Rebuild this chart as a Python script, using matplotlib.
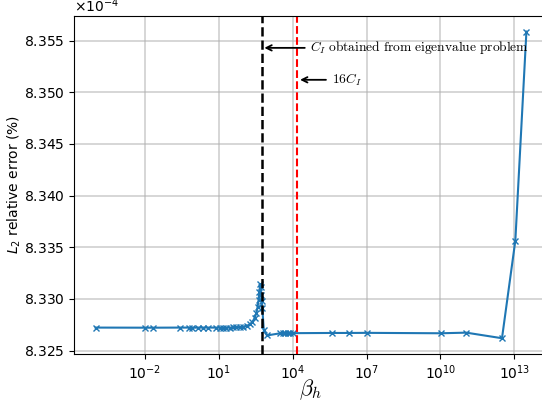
import matplotlib
matplotlib.use("Agg")
import matplotlib.pyplot as plt
import numpy as np

beta = [1e-4, 1e-2, 0.022, 0.26, 0.62, 0.85, 1.45, 2.3, 3.7, 8.1, 11, 15, 20, 28, 38,
        52, 71, 98, 135, 182, 234, 288, 339, 380, 417, 447, 490, 513, 537, 562, 589,
        676, 912, 3162, 3981, 5012, 6310, 7943, 1e4, 3.9e5, 1.95e6, 1.02e7,
        1.07e10, 1.12e11, 3.16e12, 1.1e13, 3.1e13]
# L2 relative error values in units of 1e-4 (%)
err = [8.32723, 8.32722, 8.32722, 8.32723, 8.32723, 8.32722, 8.32723, 8.32723, 8.32723,
       8.32723, 8.32723, 8.32723, 8.32723, 8.32723, 8.32724,
       8.32725, 8.32727, 8.32731, 8.32739, 8.32754, 8.32778, 8.32816, 8.32865, 8.32923,
       8.32991, 8.33068, 8.33145, 8.33116, 8.33039, 8.32981, 8.32913,
       8.32700, 8.32647, 8.32668, 8.32668, 8.32668, 8.32669, 8.32669, 8.32669,
       8.32671, 8.32671, 8.32672,
       8.32668, 8.32674, 8.32620, 8.33564, 8.35587]
scale = 1e-4

C_I = 550.0
C16 = 1.55e4
ann_text1 = r"$C_I\ \mathrm{obtained\ from\ eigenvalue\ problem}$"
ann_text2 = r"$16C_I$"

fig = plt.figure(figsize=(5.42, 4.05), dpi=100)
ax = fig.add_axes([0.1365, 0.127, 0.8745, 0.833])

y = np.array(err) * scale
ax.plot(beta, y, marker='x', color='#1f77b4', lw=1.5, ms=5)
ax.set_xscale('log')
ax.axvline(C_I, color='k', ls='--', lw=1.8)
ax.axvline(C16, color='red', ls='--', lw=1.5)
ax.grid(True, color='#b0b0b0', alpha=0.6, lw=1.2)

ax.annotate(ann_text1, xy=(C_I, 8.35429e-4), xytext=(10**4.72, 8.35429e-4),
            ha='left', va='center', fontsize=9.7, math_fontfamily='cm',
            arrowprops=dict(arrowstyle='->', color='k', lw=1.3))
ax.annotate(ann_text2, xy=(C16, 8.3512e-4), xytext=(10**5.58, 8.3512e-4),
            ha='left', va='center', fontsize=9.7, math_fontfamily='cm',
            arrowprops=dict(arrowstyle='->', color='k', lw=1.3))

ax.set_xticks([1e-2, 1e1, 1e4, 1e7, 1e10, 1e13])
ax.ticklabel_format(axis='y', style='sci', scilimits=(-4, -4), useMathText=True)
ax.set_xlabel(r"$\beta_h$", fontsize=16, math_fontfamily='cm', labelpad=-3)
ax.set_ylabel(r"$L_2$ relative error (%)", fontsize=10)
ax.yaxis.set_label_coords(-0.108, 0.5)

fig.savefig("out.png", dpi=100)
